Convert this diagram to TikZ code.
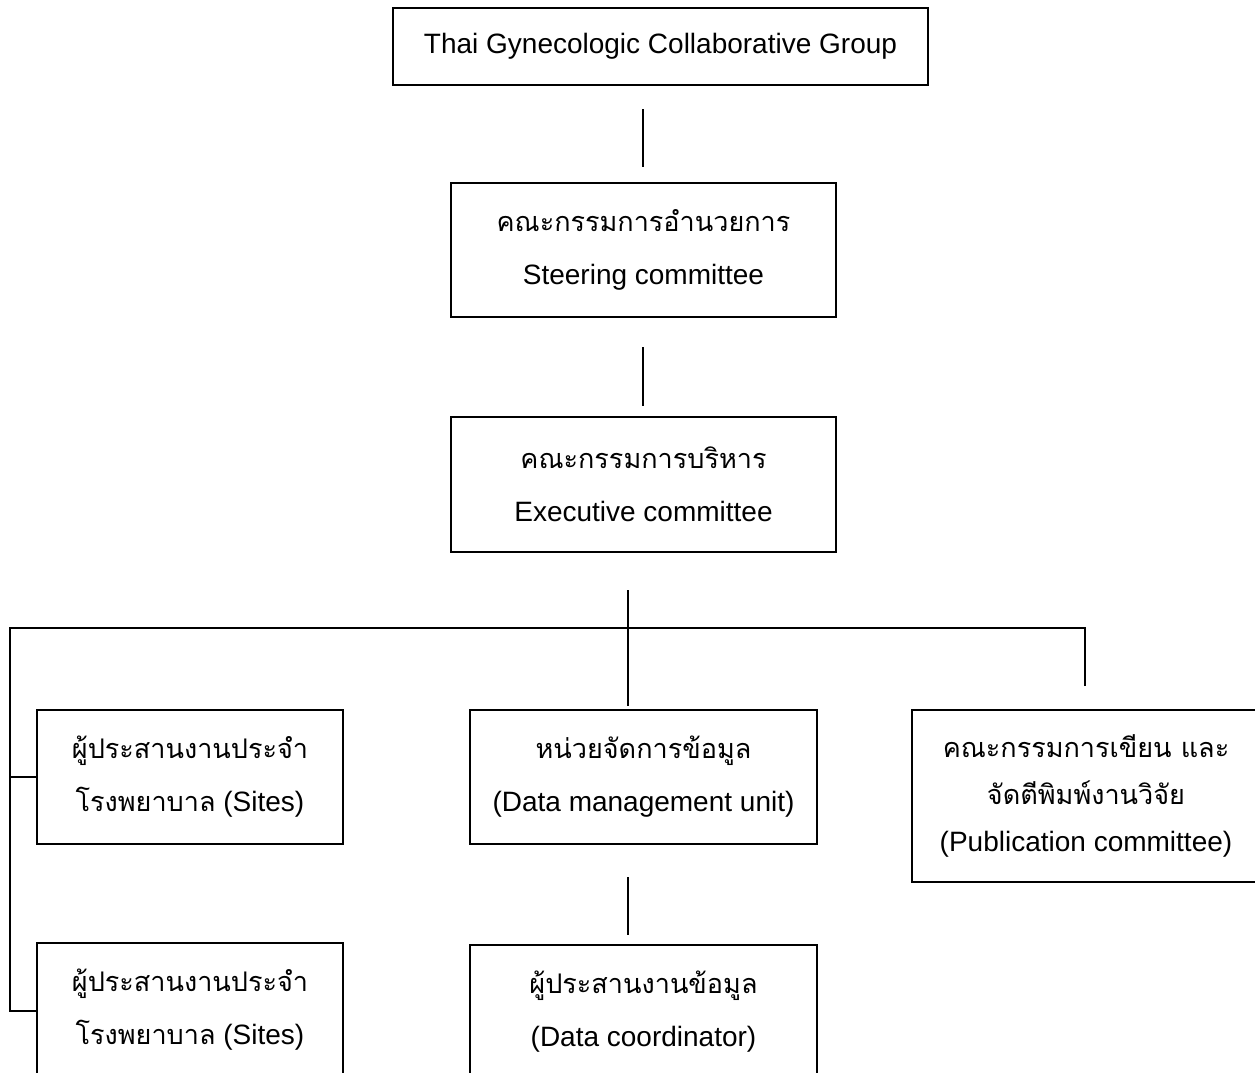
\documentclass[tikz,border=0pt]{standalone}
\usepackage{fontspec}
\setmainfont{Liberation Sans}
\newfontfamily\thai[Script=Thai,Scale=0.965]{Loma}
\begin{document}
\begin{tikzpicture}[x=1pt,y=-1pt,
  box/.style={draw=black, line width=1.7pt, inner sep=0pt, align=center,
    font=\fontsize{28}{53}\selectfont, text=black},
  conn/.style={draw=black, line width=1.4pt}]
\useasboundingbox (0,0) rectangle (1255,1072);
\clip (0,0) rectangle (1255,1072);
% boxes
\node[box, minimum width=535pt, minimum height=77pt] (tgcg) at (660.5,46.5) {Thai Gynecologic Collaborative Group};
\node[box, minimum width=385pt, minimum height=134pt] (steer) at (643.5,250) {{\thai คณะกรรมการอำนวยการ}\\Steering committee};
\node[box, minimum width=385pt, minimum height=135pt] (exec) at (643.5,484.5) {{\thai คณะกรรมการบริหาร}\\Executive committee};
\node[box, minimum width=306pt, minimum height=134pt] (site1) at (190,777) {{\thai ผู้ประสานงานประจำ}\\{\thai โรงพยาบาล} (Sites)};
\node[box, minimum width=306pt, minimum height=134pt] (site2) at (190,1010) {{\thai ผู้ประสานงานประจำ}\\{\thai โรงพยาบาล} (Sites)};
\node[box, minimum width=347pt, minimum height=134pt] (dmu) at (643.5,777) {{\thai หน่วยจัดการข้อมูล}\\(Data management unit)};
\node[box, minimum width=347pt, minimum height=134pt] (dc) at (643.5,1012) {{\thai ผู้ประสานงานข้อมูล}\\(Data coordinator)};
\node[box, minimum width=348pt, minimum height=172pt, font=\fontsize{28}{47}\selectfont] (pub) at (1086,796) {{\thai คณะกรรมการเขียน และ}\\{\thai จัดตีพิมพ์งานวิจัย}\\(Publication committee)};
% connector end points
\coordinate (a1) at (643,109);
\coordinate (a2) at (643,167);
\coordinate (b1) at (643,347);
\coordinate (b2) at (643,406);
\coordinate (c1) at (628,590);
\coordinate (c2) at (628,706);
\coordinate (hl) at (10,628);
\coordinate (hr) at (1085,628);
\coordinate (r2) at (1085,686);
\coordinate (l2) at (10,1011);
\coordinate (d1) at (628,877);
\coordinate (d2) at (628,935);
% connectors
\draw[conn] (a1) -- (a2);
\draw[conn] (b1) -- (b2);
\draw[conn] (c1) -- (c2);
\draw[conn] (r2) -- (hr) -- (hl) -- (l2) -- (site2.west |- l2);
\draw[conn] (hl |- site1.west) -- (site1.west);
\draw[conn] (d1) -- (d2);
\end{tikzpicture}
\end{document}
